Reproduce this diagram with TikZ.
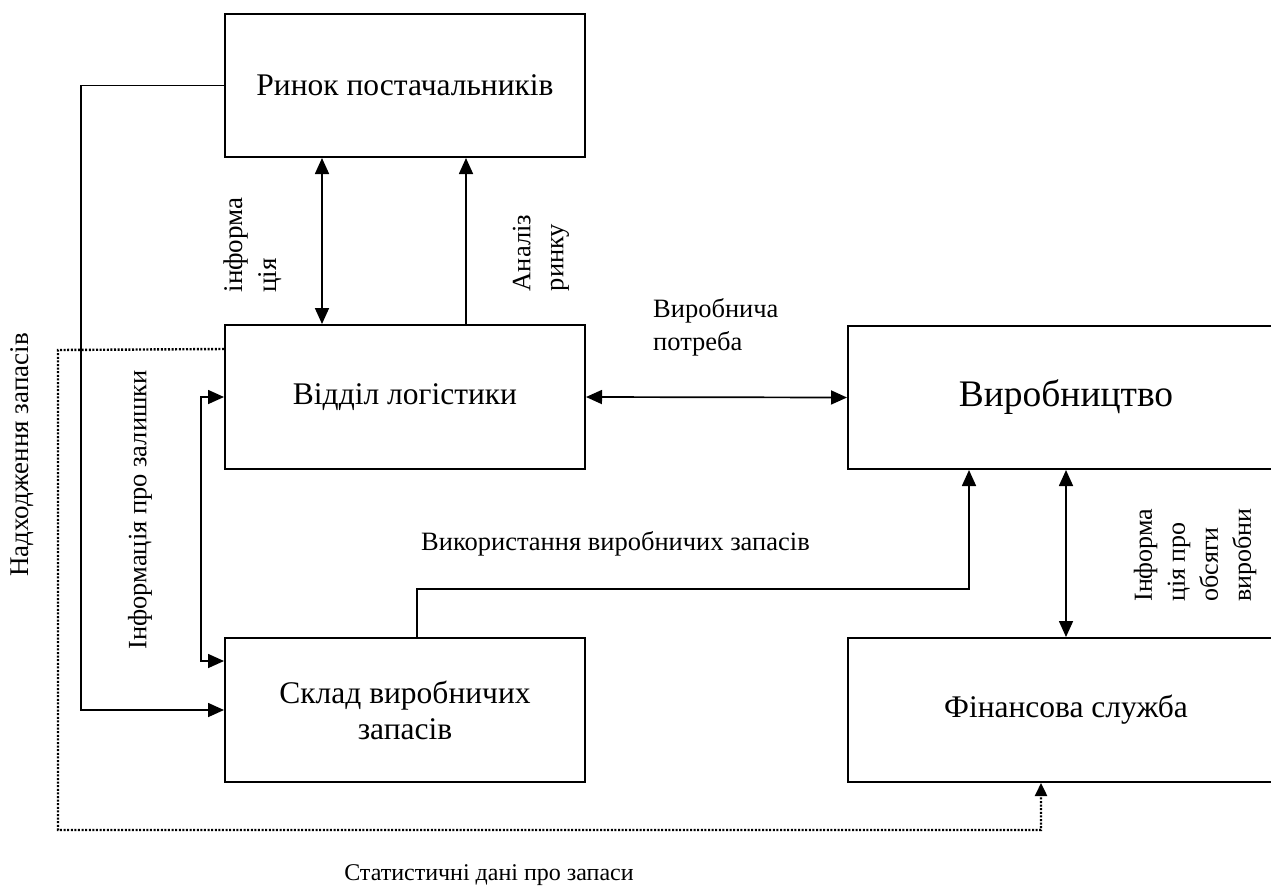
\documentclass[tikz,border=0pt]{standalone}
\usepackage{fontspec}
\setmainfont{Liberation Serif}
\usetikzlibrary{arrows.meta}
\tikzset{
  box/.style={draw, line width=2pt, inner sep=0pt, align=center, font=\fontsize{31.5}{36}\selectfont},
  lbl/.style={inner sep=0pt, font=\fontsize{26.5}{33}\selectfont},
  conn/.style={line width=1.7pt},
  arr/.style={conn, -{Triangle[length=16pt,width=14pt]}},
  darr/.style={conn, {Triangle[length=16pt,width=14pt]}-{Triangle[length=16pt,width=14pt]}},
  dotarr/.style={line width=2.4pt, dash pattern=on 2pt off 1.6pt, -{Triangle[length=13pt,width=12pt]}}
}
\begin{document}
\begin{tikzpicture}[x=1pt,y=-1pt]
\useasboundingbox (0,0) rectangle (1271,892);
\clip (0,0) rectangle (1271,892);
% boxes
\node[box, minimum width=360pt, minimum height=143pt] (rynok) at (405,85.5) {Ринок постачальників};
\node[box, minimum width=360pt, minimum height=144pt] (logist) at (405,397) {Відділ логістики};
\node[box, minimum width=360pt, minimum height=144pt] (sklad) at (405,710) {Склад виробничих\\запасів};
\node[box, minimum width=436pt, minimum height=143pt, font=\fontsize{37.5}{44}\selectfont] (vyrob) at (1066,397.5) {Виробництво};
\node[box, minimum width=436pt, minimum height=144pt] (fin) at (1066,710) {Фінансова служба};
% connectors
\draw[arr] (rynok.west) -- (81,85.5) -- (81,710) -- (sklad.west);
\draw[dotarr] ([yshift=-25pt]logist.north west) -- (58,350) -- (58,830) -| ([xshift=-25pt]fin.south);
\draw[darr] (logist.west) -- (201,397) -- (201,661) -- ([yshift=49pt]sklad.west);
\draw[darr] ([xshift=-83pt]rynok.south) -- ([xshift=-83pt]logist.north);
\draw[arr] ([xshift=61pt]logist.north) -- ([xshift=61pt]rynok.south);
\draw[darr] (logist.east) -- (vyrob.west);
\draw[arr] ([xshift=12pt]sklad.north) -- ++(0,-48) -| ([xshift=-97pt]vyrob.south);
\draw[darr] (vyrob.south) -- (fin.north);
% labels
\node[lbl, anchor=west, align=left] (lpotr) at (653,327) {Виробнича\\потреба};
\node[lbl, anchor=base west] (lvykor) at (421,550) {Використання виробничих запасів};
\node[lbl, anchor=base, font=\fontsize{24}{30}\selectfont] (lstat) at (489,880) {Статистичні дані про запаси};
\node[lbl, rotate=90, align=left, font=\fontsize{27}{34}\selectfont] (linf) at (253,245) {інформа\\ція};
\node[lbl, rotate=90, align=left] (lanal) at (541,253) {Аналіз\\ринку};
\node[lbl, rotate=90, font=\fontsize{27}{34}\selectfont] (lnadh) at (22,455) {Надходження запасів};
\node[lbl, rotate=90] (lzal) at (140,510) {Інформація про залишки};
\node[lbl, rotate=90, align=left, font=\fontsize{26}{33}\selectfont] (lobs) at (1195,555) {Інформа\\ція про\\обсяги\\виробни};
\end{tikzpicture}
\end{document}
